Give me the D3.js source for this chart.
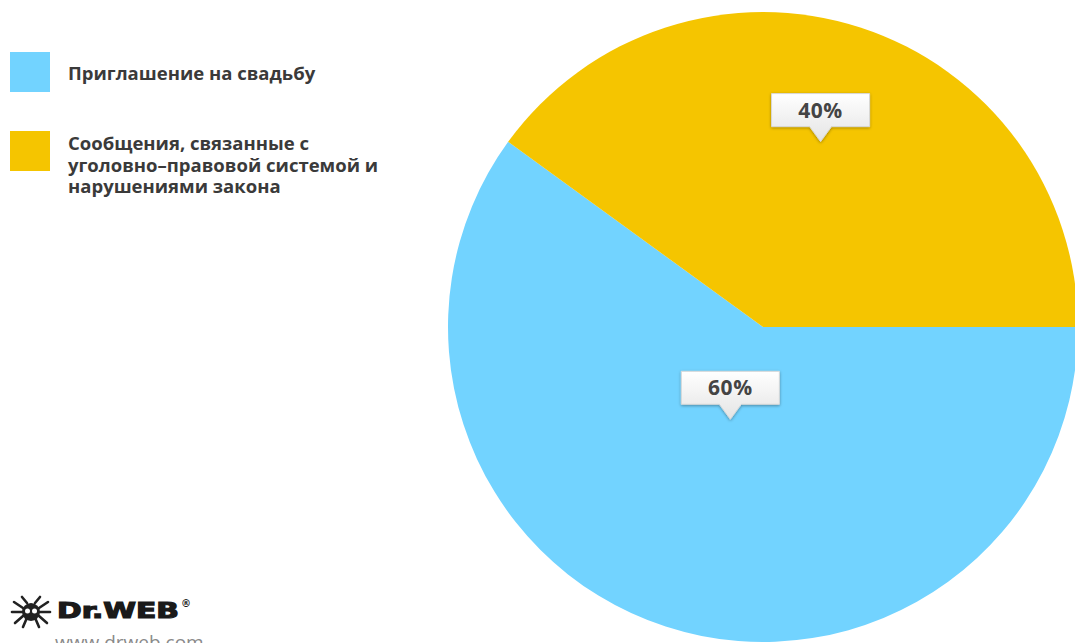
<!DOCTYPE html>
<html>
<head>
<meta charset="utf-8">
<script src="https://cdn.jsdelivr.net/npm/d3@7"></script>
<style>
  body { margin: 0; background: #fff; overflow: hidden; }
  svg { display: block; }
</style>
</head>
<body>
<script>
  var w = 1075, h = 643;

  // data
  var categories = ["Приглашение на свадьбу",
                    "Сообщения, связанные с уголовно–правовой системой и нарушениями закона"];
  var legendLines = [["Приглашение на свадьбу"],
                     ["Сообщения, связанные с", "уголовно–правовой системой и", "нарушениями закона"]];
  var values = [60, 40];
  var labels = ["60%", "40%"];
  var colors = ["#72D3FF", "#F5C500"];

  var svg = d3.select("body").append("svg")
              .attr("width", w)
              .attr("height", h);

  var defs = svg.append("defs");
  var grad = defs.append("linearGradient")
                 .attr("id", "boxgrad")
                 .attr("x1", 0).attr("y1", 0).attr("x2", 0).attr("y2", 1);
  grad.append("stop").attr("offset", "0%").attr("stop-color", "#ffffff");
  grad.append("stop").attr("offset", "100%").attr("stop-color", "#e4e4e4");
  var shadow = defs.append("filter").attr("id", "shadow")
                   .attr("x", "-20%").attr("y", "-20%").attr("width", "140%").attr("height", "160%");
  shadow.append("feDropShadow")
        .attr("dx", 0).attr("dy", 1).attr("stdDeviation", 1.5)
        .attr("flood-color", "#000").attr("flood-opacity", 0.35);

  //pie
  var cx = 763, cy = 327, R = 315;
  var pie = d3.pie().sort(null)
              .startAngle(Math.PI / 2)
              .endAngle(Math.PI / 2 + 2 * Math.PI);
  var arc = d3.arc().innerRadius(0).outerRadius(R);
  var arcs = pie(values);

  var g = svg.append("g").attr("transform", "translate(" + cx + "," + cy + ")");
  g.selectAll("path.slice")
   .data(arcs)
   .enter()
   .append("path")
   .attr("class", "slice")
   .attr("d", arc)
   .attr("fill", (d, i) => colors[i]);

  // callout labels, tip sits on a label arc
  var labelR = [96, 196];
  var bw = 98, bh = 33, th = 15, tw = 11;
  var callouts = g.selectAll("g.callout")
                  .data(arcs)
                  .enter()
                  .append("g")
                  .attr("class", "callout")
                  .attr("transform", (d, i) => {
                      var a = d3.arc().innerRadius(labelR[i]).outerRadius(labelR[i]);
                      var c = a.centroid(d);
                      return "translate(" + (c[0] - 3) + "," + (c[1] + 1) + ")";
                  });

  callouts.append("path")
          .attr("d", "M" + (-bw / 2) + "," + (-th - bh) +
                     " H" + (bw / 2) + " V" + (-th) +
                     " H" + tw + " L0,0 L" + (-tw) + "," + (-th) +
                     " H" + (-bw / 2) + " Z")
          .attr("fill", "url(#boxgrad)")
          .attr("stroke", "#d8d8d8")
          .attr("stroke-width", 1)
          .attr("filter", "url(#shadow)");

  callouts.append("text")
          .attr("x", 0)
          .attr("y", -th - bh + 24)
          .attr("text-anchor", "middle")
          .attr("font-family", "'Open Sans', sans-serif")
          .attr("font-weight", 700)
          .attr("font-size", "21px")
          .attr("letter-spacing", "0.5px")
          .attr("fill", "#444")
          .text((d, i) => labels[i]);

  //legend
  var legendY = [52, 131];
  var legend = svg.selectAll("g.legend")
                  .data(categories)
                  .enter()
                  .append("g")
                  .attr("class", "legend")
                  .attr("transform", (d, i) => "translate(10," + legendY[i] + ")");

  legend.append("rect")
        .attr("width", 40)
        .attr("height", 40)
        .attr("fill", (d, i) => colors[i]);

  legend.append("text")
        .attr("font-family", "'Open Sans', sans-serif")
        .attr("font-weight", 700)
        .attr("font-size", "18.5px")
        .attr("fill", "#3a3a3a")
        .each(function (d, i) {
            var t = d3.select(this);
            legendLines[i].forEach((line, j) => {
                t.append("tspan")
                 .attr("x", 58)
                 .attr("y", (legendLines[i].length == 1 ? 28 : 19) + j * 21.5)
                 .text(line);
            });
        });

  //logo
  var logo = svg.append("g").attr("transform", "translate(10,592)");
  var bug = logo.append("g").attr("transform", "translate(21,20)")
                .attr("stroke", "#222").attr("stroke-width", 2.6)
                .attr("stroke-linecap", "round").attr("fill", "none");
  [[-8, -4, -17, -10], [-9, 0, -19, 0], [-8, 4, -16, 11],
   [8, -4, 17, -10], [9, 0, 19, 0], [8, 4, 16, 11],
   [-4, -9, -9, -15], [4, -9, 9, -15], [-5, 8, -8, 15], [5, 8, 8, 15]].forEach(l => {
      bug.append("line").attr("x1", l[0]).attr("y1", l[1]).attr("x2", l[2]).attr("y2", l[3]);
  });
  bug.append("circle").attr("r", 9).attr("fill", "#222").attr("stroke", "none");
  bug.append("circle").attr("cx", -3.5).attr("cy", -1).attr("r", 2.5).attr("fill", "#fff").attr("stroke", "none");
  bug.append("circle").attr("cx", 3.5).attr("cy", -1).attr("r", 2.5).attr("fill", "#fff").attr("stroke", "none");

  logo.append("text")
      .attr("x", 47)
      .attr("y", 26)
      .attr("font-family", "'DejaVu Sans', sans-serif")
      .attr("font-weight", 700)
      .attr("font-size", "21px")
      .attr("textLength", 122)
      .attr("lengthAdjust", "spacingAndGlyphs")
      .attr("fill", "#1a1a1a")
      .attr("stroke", "#1a1a1a")
      .attr("stroke-width", 1.2)
      .text("Dr.WEB");
  logo.append("text")
      .attr("x", 171)
      .attr("y", 15)
      .attr("font-family", "'DejaVu Sans', sans-serif")
      .attr("font-weight", 700)
      .attr("font-size", "10px")
      .attr("fill", "#1a1a1a")
      .text("®");
  logo.append("text")
      .attr("x", 45)
      .attr("y", 57)
      .attr("font-family", "'Open Sans', sans-serif")
      .attr("font-size", "19px")
      .attr("fill", "#8a8a8a")
      .text("www.drweb.com");
</script>
</body>
</html>
